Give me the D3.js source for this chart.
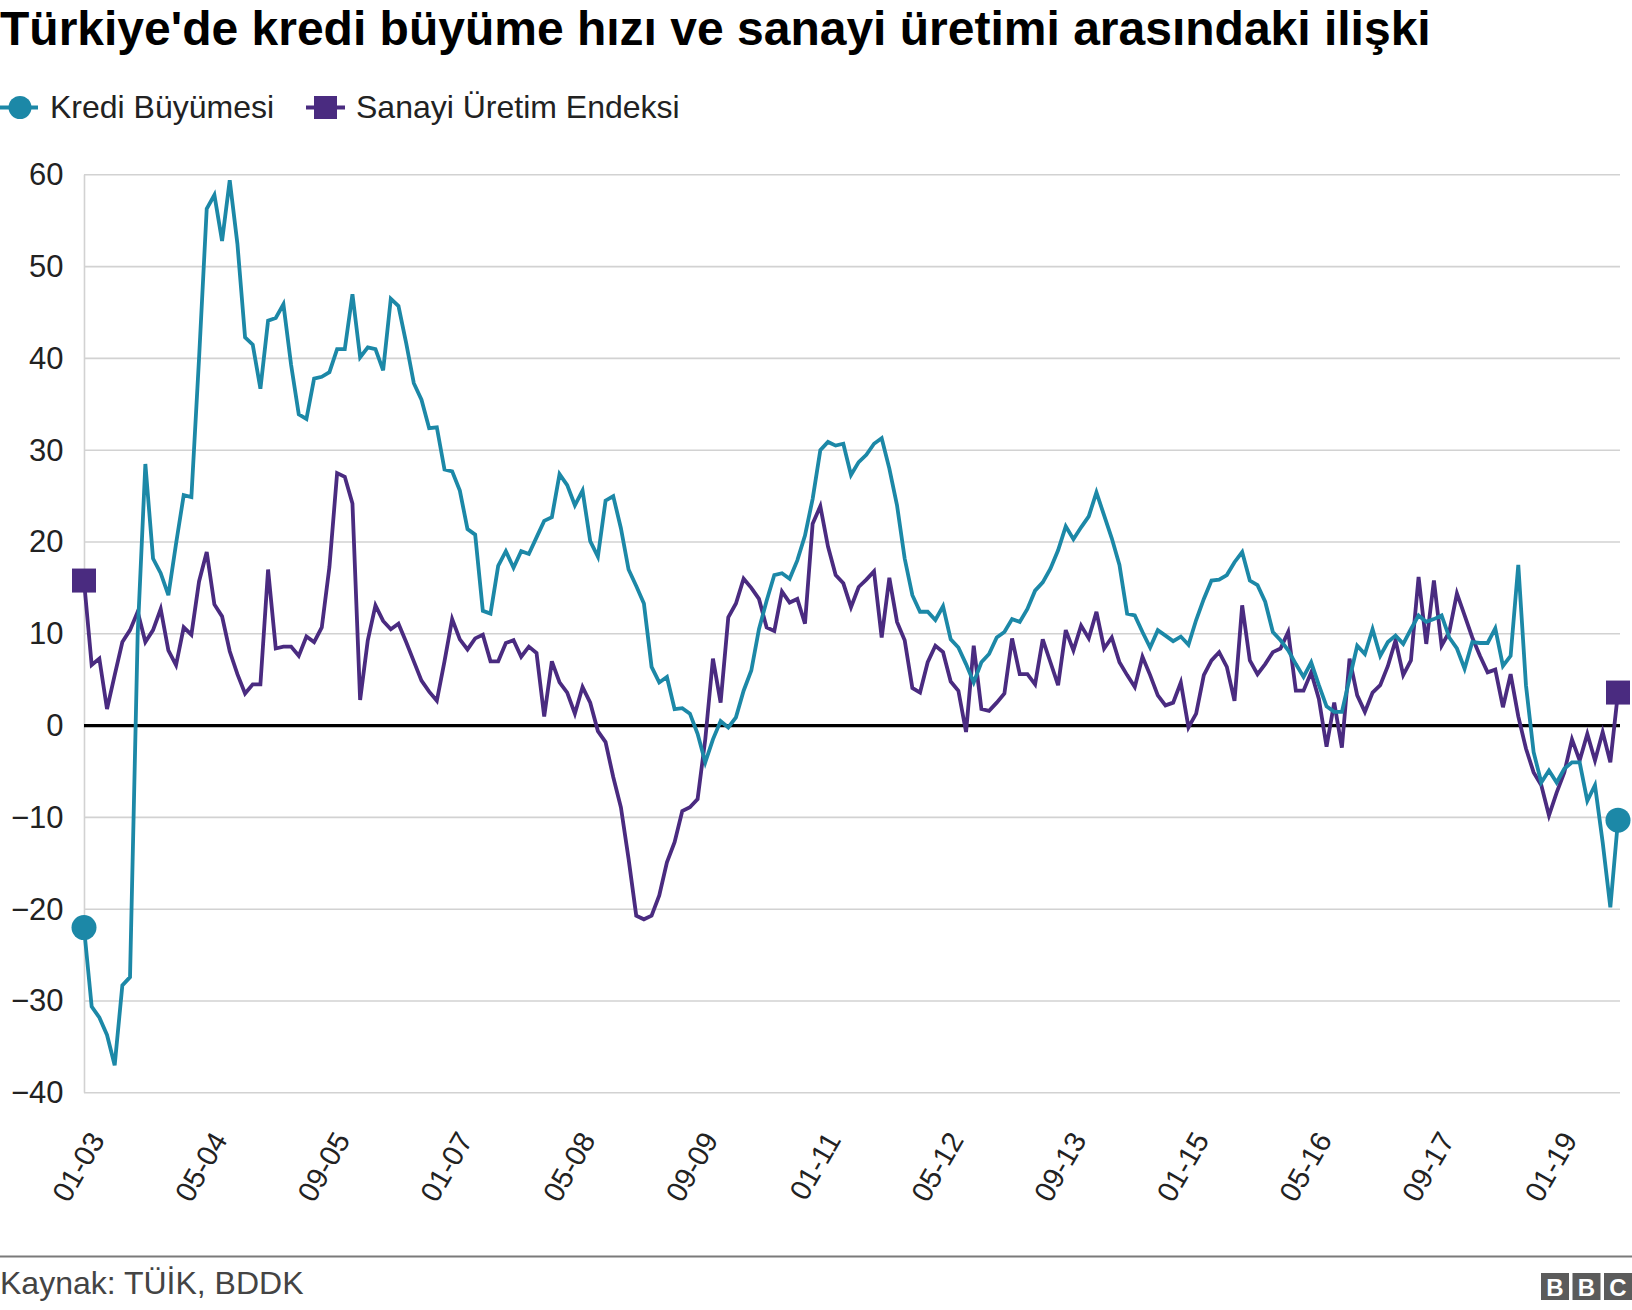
<!DOCTYPE html>
<html>
<head>
<meta charset="utf-8">
<script src="https://cdn.jsdelivr.net/npm/d3@7"></script>
<style>
  html, body { margin: 0; padding: 0; background: #fff; }
  svg { display: block; font-family: "Liberation Sans", Arial, Helvetica, sans-serif; }
</style>
</head>
<body>
<svg id="chart" width="1632" height="1310"></svg>
<script>
// ---------- DATA ----------
const title = "Türkiye'de kredi büyüme hızı ve sanayi üretimi arasındaki ilişki";
const source = "Kaynak: TÜİK, BDDK";
const seriesNames = ["Kredi Büyümesi", "Sanayi Üretim Endeksi"];
const startYear = 2003, startMonth = 1;   // first observation: 01-03
const yTicks = [60, 50, 40, 30, 20, 10, 0, -10, -20, -30, -40];
const xTickEvery = 16;                    // 01-03, 05-04, 09-05, ...

const krediBuyumesi = [
  -22.0, -30.6, -31.8, -33.7, -37.0, -28.3, -27.4, 10.0, 28.5, 18.2,
  16.6, 14.2, 19.8, 25.1, 24.9, 40.0, 56.3, 57.8, 52.8, 59.4,
  52.5, 42.3, 41.5, 36.7, 44.1, 44.4, 45.9, 39.3, 33.9, 33.4,
  37.8, 38.0, 38.5, 41.0, 41.0, 47.0, 40.1, 41.2, 41.0, 38.7,
  46.5, 45.7, 41.7, 37.3, 35.5, 32.4, 32.5, 27.9, 27.7, 25.6,
  21.4, 20.8, 12.5, 12.2, 17.4, 19.0, 17.2, 19.0, 18.7, 20.5,
  22.3, 22.7, 27.4, 26.2, 24.0, 25.6, 20.1, 18.4, 24.5, 25.0,
  21.5, 17.0, 15.2, 13.3, 6.4, 4.7, 5.3, 1.8, 1.9, 1.3,
  -0.9, -4.0, -1.5, 0.5, -0.2, 0.9, 3.8, 6.0, 10.5, 13.6,
  16.4, 16.6, 16.0, 18.0, 20.7, 24.7, 30.0, 30.9, 30.5, 30.7,
  27.3, 28.7, 29.5, 30.7, 31.3, 28.0, 24.0, 18.2, 14.2, 12.4,
  12.4, 11.5, 13.0, 9.4, 8.5, 6.7, 4.7, 6.9, 7.8, 9.6,
  10.2, 11.6, 11.3, 12.7, 14.7, 15.6, 17.1, 19.1, 21.7, 20.3,
  21.6, 22.8, 25.4, 22.9, 20.4, 17.5, 12.2, 12.0, 10.2, 8.5,
  10.4, 9.8, 9.2, 9.7, 8.8, 11.5, 13.8, 15.8, 15.9, 16.4,
  17.8, 18.9, 15.8, 15.3, 13.5, 10.2, 9.3, 8.2, 6.7, 5.3,
  6.9, 4.4, 2.1, 1.5, 1.5, 5.1, 8.7, 7.8, 10.5, 7.6,
  9.1, 9.8, 8.9, 10.5, 12.0, 11.3, 11.6, 12.0, 9.6, 8.4,
  6.2, 9.1, 9.0, 9.0, 10.6, 6.5, 7.6, 17.5, 4.4, -2.9,
  -6.2, -4.9, -6.2, -4.7, -4.0, -4.0, -8.2, -6.5, -12.7, -19.8,
  -10.3
];

const sanayiUretimEndeksi = [
  15.8, 6.6, 7.3, 1.8, 5.5, 9.1, 10.4, 12.4, 9.1, 10.4,
  12.7, 8.2, 6.6, 10.7, 9.9, 15.7, 18.9, 13.2, 11.9, 8.1,
  5.6, 3.5, 4.5, 4.5, 17.0, 8.4, 8.6, 8.6, 7.6, 9.7,
  9.1, 10.7, 17.3, 27.5, 27.1, 24.2, 2.8, 9.3, 13.1, 11.4,
  10.5, 11.1, 9.1, 7.0, 4.9, 3.7, 2.7, 7.0, 11.6, 9.4,
  8.3, 9.5, 9.9, 7.0, 7.0, 9.0, 9.3, 7.5, 8.6, 7.9,
  1.0, 7.0, 4.7, 3.6, 1.3, 4.2, 2.5, -0.6, -1.8, -5.6,
  -8.9, -14.5, -20.7, -21.1, -20.7, -18.5, -14.9, -12.7, -9.3, -8.9,
  -8.0, -1.5, 7.3, 2.5, 11.8, 13.3, 16.0, 15.0, 13.8, 10.7,
  10.3, 14.6, 13.4, 13.8, 11.1, 22.0, 23.9, 19.5, 16.4, 15.5,
  12.9, 15.1, 15.9, 16.8, 9.6, 16.1, 11.3, 9.3, 4.1, 3.6,
  6.9, 8.7, 8.0, 4.8, 3.8, -0.7, 8.7, 1.8, 1.6, 2.5,
  3.5, 9.5, 5.6, 5.6, 4.5, 9.4, 6.9, 4.4, 10.4, 8.2,
  10.9, 9.5, 12.4, 8.4, 9.6, 6.9, 5.5, 4.2, 7.5, 5.5,
  3.3, 2.2, 2.5, 4.7, -0.2, 1.3, 5.5, 7.1, 8.0, 6.4,
  2.7, 13.1, 7.1, 5.6, 6.7, 8.0, 8.4, 10.2, 3.8, 3.8,
  5.8, 2.9, -2.3, 2.5, -2.4, 7.3, 3.3, 1.5, 3.6, 4.4,
  6.5, 9.3, 5.5, 7.1, 16.2, 8.9, 15.8, 8.7, 10.2, 14.4,
  12.0, 9.6, 7.6, 5.8, 6.1, 2.0, 5.6, 1.0, -2.5, -5.1,
  -6.5, -9.8, -7.3, -5.1, -1.5, -3.8, -0.9, -3.8, -0.7, -4.0,
  3.6
];

// month labels "MM-YY"
const months = krediBuyumesi.map((_, i) => {
  const m = (startMonth - 1 + i) % 12 + 1;
  const y = startYear + Math.floor((startMonth - 1 + i) / 12);
  return String(m).padStart(2, "0") + "-" + String(y % 100).padStart(2, "0");
});
const xTickLabels = months.filter((_, i) => i % xTickEvery === 0);

// ---------- STYLE ----------
const colors = { kredi: "#1c88a7", sanayi: "#4a2b80" };
const svg = d3.select("#chart");

const plot = { left: 84, right: 1618, top: 174.8, bottom: 1092.8, gridRight: 1620 };

const x = d3.scalePoint().domain(months).range([plot.left, plot.right]);
const y = d3.scaleLinear().domain([-40, 60]).range([plot.bottom, plot.top]);

// Title
svg.append("text")
  .attr("x", 0).attr("y", 45)
  .attr("font-size", 48).attr("font-weight", "bold").attr("fill", "#000")
  .text(title);

// Legend
const leg = svg.append("g");
leg.append("line").attr("x1", 0).attr("x2", 38).attr("y1", 107.5).attr("y2", 107.5)
  .attr("stroke", colors.kredi).attr("stroke-width", 3.8);
leg.append("circle").attr("cx", 20).attr("cy", 107.5).attr("r", 11.5).attr("fill", colors.kredi);
leg.append("text").attr("x", 50).attr("y", 118).attr("font-size", 32).attr("fill", "#222")
  .text(seriesNames[0]);
leg.append("line").attr("x1", 306).attr("x2", 345).attr("y1", 107.5).attr("y2", 107.5)
  .attr("stroke", colors.sanayi).attr("stroke-width", 3.8);
leg.append("rect").attr("x", 314).attr("y", 96).attr("width", 23).attr("height", 23).attr("fill", colors.sanayi);
leg.append("text").attr("x", 356).attr("y", 118).attr("font-size", 32).attr("fill", "#222")
  .text(seriesNames[1]);

// Grid + y axis labels
const yAxis = d3.axisLeft(y).tickValues(yTicks).tickSize(0)
  .tickFormat(d => d < 0 ? "\u2212" + Math.abs(d) : String(d));
const gy = svg.append("g").attr("transform", `translate(${plot.left - 17.5},0)`).call(yAxis);
gy.select(".domain").remove();
gy.selectAll("text").attr("font-size", 31).attr("fill", "#222")
  .attr("font-family", "Liberation Sans, Arial, sans-serif").attr("dx", 0);

svg.append("g").selectAll("line").data(yTicks.filter(d => d !== 0)).join("line")
  .attr("x1", plot.left).attr("x2", plot.gridRight)
  .attr("y1", d => y(d)).attr("y2", d => y(d))
  .attr("stroke", "#d2d2d2").attr("stroke-width", 1.6);

// left axis line
svg.append("line").attr("x1", plot.left + 0.5).attr("x2", plot.left + 0.5)
  .attr("y1", y(60)).attr("y2", y(-40))
  .attr("stroke", "#d2d2d2").attr("stroke-width", 1.6);

// X axis tick labels
const xAxis = d3.axisBottom(x).tickValues(xTickLabels).tickSize(0);
const gx = svg.append("g").attr("transform", `translate(0,${plot.bottom})`).call(xAxis);
gx.select(".domain").remove();
gx.selectAll(".tick text")
  .attr("font-size", 29).attr("fill", "#222")
  .attr("font-family", "Liberation Sans, Arial, sans-serif")
  .attr("text-anchor", "end")
  .attr("y", 0).attr("dy", 0)
  .attr("transform", "translate(21,47) rotate(-60)");

// zero line
svg.append("line").attr("x1", plot.left).attr("x2", plot.gridRight)
  .attr("y1", y(0)).attr("y2", y(0))
  .attr("stroke", "#000").attr("stroke-width", 3.4);

// Lines
const line = d3.line().x((d, i) => x(months[i])).y(d => y(d));
svg.append("path").datum(sanayiUretimEndeksi).attr("d", line)
  .attr("fill", "none").attr("stroke", colors.sanayi).attr("stroke-width", 3.8)
  .attr("stroke-linejoin", "miter");
svg.append("path").datum(krediBuyumesi).attr("d", line)
  .attr("fill", "none").attr("stroke", colors.kredi).attr("stroke-width", 3.8)
  .attr("stroke-linejoin", "miter");

// End markers
const last = months.length - 1;
[0, last].forEach(i => {
  svg.append("rect")
    .attr("x", x(months[i]) - 12).attr("y", y(sanayiUretimEndeksi[i]) - 12)
    .attr("width", 24).attr("height", 24).attr("fill", colors.sanayi);
  svg.append("circle")
    .attr("cx", x(months[i])).attr("cy", y(krediBuyumesi[i]))
    .attr("r", 12.5).attr("fill", colors.kredi);
});

// Footer
svg.append("line").attr("x1", 0).attr("x2", 1632).attr("y1", 1256.5).attr("y2", 1256.5)
  .attr("stroke", "#7a7a7a").attr("stroke-width", 2);
svg.append("text").attr("x", 0).attr("y", 1294).attr("font-size", 32).attr("fill", "#444")
  .text(source);

// BBC logo
const logo = svg.append("g").attr("transform", "translate(1541,1273)");
["B", "B", "C"].forEach((ch, k) => {
  logo.append("rect").attr("x", k * 31.5).attr("y", 0).attr("width", 28).attr("height", 27).attr("fill", "#5b5b5b");
  logo.append("text").attr("x", k * 31.5 + 14).attr("y", 22.5).attr("text-anchor", "middle")
    .attr("font-size", 24).attr("font-weight", "bold").attr("fill", "#fff").text(ch);
});
</script>
</body>
</html>
